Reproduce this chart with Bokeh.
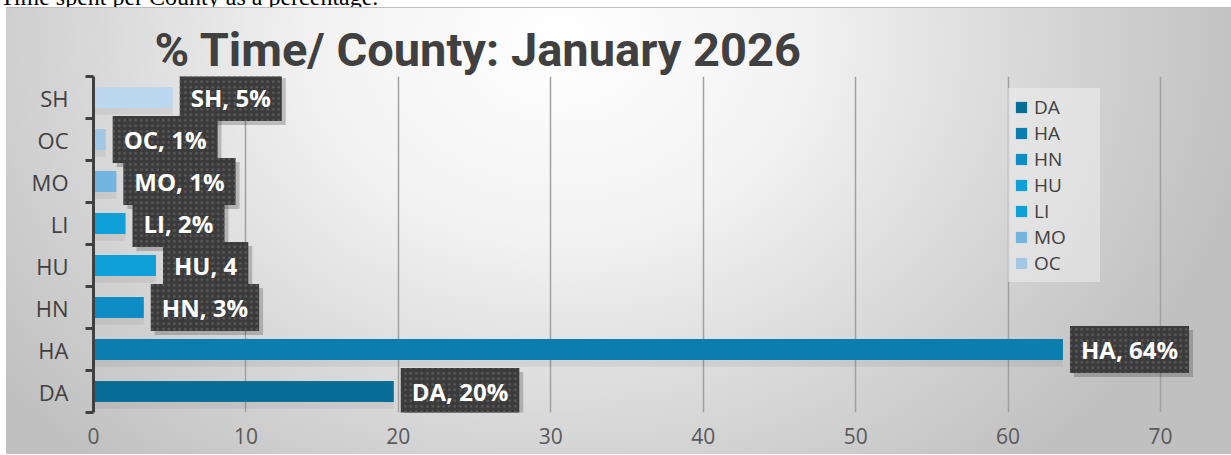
from bokeh.plotting import figure
from bokeh.models import ColumnDataSource, FixedTicker, Legend, LegendItem, Div, Range1d
from bokeh.layouts import column
from bokeh.transform import dodge
from bokeh.embed import file_html
from bokeh.resources import INLINE
from bokeh.core.properties import value

# ---- data ----
counties = ["DA", "HA", "HN", "HU", "LI", "MO", "OC", "SH"]
pct = [19.7, 63.6, 3.3, 4.1, 2.1, 1.5, 0.8, 5.2]
labels = ["DA, 20%", "HA, 64%", "HN, 3%", "HU, 4", "LI, 2%", "MO, 1%", "OC, 1%", "SH, 5%"]
x_ticks = [0, 10, 20, 30, 40, 50, 60, 70]
legend_counties = ["DA", "HA", "HN", "HU", "LI", "MO", "OC"]
title_text = "% Time/ County: January 2026"
caption_text = "Time spent per County as a percentage."

# ---- styles ----
palette = ["#066e96", "#0a7eae", "#0e8cc4", "#0fa0d8", "#0fa0d8", "#74b4e0", "#a2c8e6", "#bdd7ee"]
FONT = "Open Sans"
TXT = "#404040"

ypos = [i + 0.5 for i in range(len(counties))]
src = ColumnDataSource(dict(y=ypos, pct=pct, label=labels, color=palette, county=counties))

W, H = 1225, 447
p = figure(
    width=W, height=H, output_backend="svg", toolbar_location=None,
    x_range=Range1d(0, 72.95), y_range=Range1d(0, len(counties)),
    min_border_left=87, min_border_right=26, min_border_top=69, min_border_bottom=42,
    title=title_text,
    margin=(0, 0, 0, 6),
    styles={
        "background-image": "radial-gradient(ellipse 700px 570px at 554px 33px, #ffffff 0%, #f2f2f2 35%, #d6d6d6 70%, #c0c0c0 100%)",
        "box-shadow": "inset 0 1px 0 #bdbdbd",
    },
)
p.border_fill_alpha = 0
p.background_fill_alpha = 0
p.outline_line_color = None

p.title.text_font = "Roboto"
p.title.text_font_style = "bold"
p.title.text_font_size = "47px"
p.title.text_color = TXT
p.title.align = "left"
p.title.offset = 61
p.title.standoff = 0

# grid
p.xgrid.ticker = FixedTicker(ticks=x_ticks)
p.xgrid.grid_line_color = "#a0a0a0"
p.xgrid.grid_line_width = 1.5
p.ygrid.grid_line_color = None

# x axis
xa = p.xaxis[0]
xa.ticker = FixedTicker(ticks=x_ticks)
xa.axis_line_color = None
xa.major_tick_line_color = None
xa.minor_tick_line_color = None
xa.major_label_text_font = FONT
xa.major_label_text_font_size = "21px"
xa.major_label_text_color = "#595959"
xa.major_label_standoff = 9

# y axis
ya = p.yaxis[0]
ya.ticker = FixedTicker(ticks=ypos, minor_ticks=list(range(len(counties) + 1)))
ya.major_label_overrides = {y: c for y, c in zip(ypos, counties)}
ya.axis_line_color = TXT
ya.axis_line_width = 3
ya.major_tick_out = 0
ya.major_tick_in = 0
ya.major_tick_line_color = None
ya.minor_tick_out = 8
ya.minor_tick_in = 0
ya.minor_tick_line_color = TXT
ya.minor_tick_line_width = 3
ya.major_label_text_font = FONT
ya.major_label_text_font_size = "22px"
ya.major_label_text_color = TXT
ya.major_label_standoff = 17

# soft bar shadows
p.hbar(y=dodge("y", -0.1), right="pct", left=0, height=0.62, source=src,
       fill_color="black", fill_alpha=0.06, line_color=None)
# bars
bars = p.hbar(y="y", right="pct", left=0, height=0.5, source=src,
              fill_color="color", line_color=None)

PAD = (11, 11, 7, 7)
# data label shadows
p.text(x="pct", y="y", text="label", source=src, x_offset=11, y_offset=4,
       text_align="left", text_baseline="middle",
       text_font=value(FONT), text_font_style="bold", text_font_size="24px",
       text_alpha=0, background_fill_color="black", background_fill_alpha=0.2,
       padding=PAD)
# data labels
p.text(x="pct", y="y", text="label", source=src, x_offset=7,
       text_align="left", text_baseline="middle",
       text_font=value(FONT), text_font_style="bold", text_font_size="24px",
       text_color="white", background_fill_color="#3b3b3b",
       background_hatch_pattern="dot", background_hatch_color="#5a5a5a",
       background_hatch_scale=5.5, background_hatch_weight=1.4,
       padding=PAD)

# legend (first seven entries only, as in the original)
items = [LegendItem(label=c, renderers=[bars], index=counties.index(c)) for c in legend_counties]
legend = Legend(items=items, location=(915, 130), padding=6, spacing=0,
                glyph_width=14, glyph_height=14, label_height=18, label_standoff=6,
                label_width=60,
                label_text_font=FONT, label_text_font_size="19px", label_text_color=TXT,
                background_fill_color="#efefef", background_fill_alpha=0.55,
                border_line_alpha=0)
p.add_layout(legend)

cap = Div(
    text=f'<div style="font-family: \'Liberation Serif\', serif; font-size: 24px; color: #000; line-height: 20px; height: 20px; white-space: nowrap;">{caption_text}</div>',
    width=700, height=20,
    margin=(-13, 0, 0, 0),
    styles={"overflow": "hidden"},
)

layout = column(cap, p)
open("out.html", "w").write(file_html(layout, INLINE))
